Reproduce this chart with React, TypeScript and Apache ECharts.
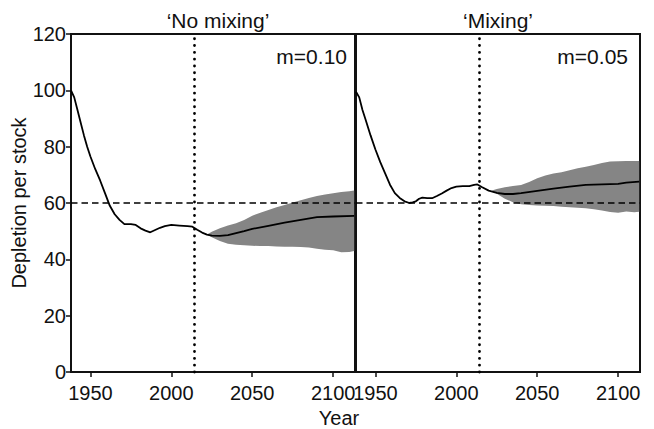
import React, { useEffect, useRef } from "react";
import * as echarts from "echarts";

// ---- Data ----
const noMixYears = [1938, 1940, 1942, 1944, 1946, 1948, 1950, 1953, 1956, 1959, 1962, 1965, 1968, 1971, 1975, 1978, 1981, 1984, 1987, 1990, 1993, 1996, 2000, 2005, 2010, 2013, 2016, 2019, 2022, 2025, 2030, 2035, 2040, 2045, 2050, 2060, 2070, 2080, 2090, 2100, 2113];
const noMixMean = [100, 97.5, 93, 88.5, 84, 80, 76.5, 72, 68, 63.5, 59, 56, 54, 52.5, 52.5, 52.2, 51, 50.2, 49.6, 50.4, 51.2, 51.8, 52.2, 52, 51.8, 51.6, 50.5, 49.5, 48.8, 48.4, 48.3, 48.6, 49.3, 50, 50.8, 51.9, 53, 54, 55, 55.2, 55.4];
const noMixBandYears = [2022, 2025, 2030, 2035, 2040, 2045, 2050, 2055, 2060, 2065, 2070, 2075, 2080, 2085, 2090, 2095, 2100, 2105, 2110, 2113];
const noMixLower = [48.8, 47.8, 46.5, 45.5, 45.2, 45, 44.8, 44.7, 44.7, 44.6, 44.5, 44.5, 44.4, 44.2, 43.8, 43.4, 43.2, 42.5, 42.6, 43];
const noMixUpper = [48.8, 49.8, 51, 52, 52.8, 54, 55.5, 56.5, 57.5, 58.5, 59.3, 60.2, 61, 61.8, 62.5, 63, 63.5, 63.9, 64.2, 64.4];

const mixYears = [1938, 1940, 1942, 1944, 1947, 1950, 1953, 1956, 1959, 1962, 1965, 1968, 1971, 1973, 1975, 1977, 1979, 1982, 1985, 1988, 1991, 1994, 1997, 2000, 2004, 2008, 2011, 2013, 2016, 2020, 2025, 2030, 2035, 2040, 2050, 2060, 2070, 2080, 2090, 2100, 2105, 2113];
const mixMean = [99.5, 97.5, 93, 89.5, 84, 79, 74.5, 70.5, 66.5, 63.5, 61.8, 60.6, 60, 60.2, 60.6, 61.5, 61.9, 61.7, 61.7, 62.5, 63.4, 64.4, 65.3, 65.8, 66, 66, 66.4, 66.6, 65.6, 64.4, 63.6, 63.2, 63.2, 63.5, 64.3, 65.1, 65.8, 66.4, 66.6, 66.8, 67.2, 67.6];
const mixBandYears = [2022, 2025, 2030, 2035, 2040, 2045, 2050, 2055, 2060, 2065, 2070, 2075, 2080, 2085, 2090, 2095, 2100, 2105, 2110, 2113];
const mixLower = [64.4, 63.3, 61.5, 60.3, 59.6, 59.3, 59.1, 59, 58.9, 58.7, 58.5, 58.3, 58.1, 57.8, 57.3, 56.8, 56.5, 57, 56.7, 56.9];
const mixUpper = [64.4, 65, 65.6, 66, 66.4, 67.5, 68.8, 69.8, 70.5, 70.9, 71.6, 72.3, 72.9, 73.5, 74.2, 74.7, 74.8, 74.9, 74.9, 74.9];

const xTickValues = [1950, 2000, 2050, 2100];
const panelTitles = ["\u2018No mixing\u2019", "\u2018Mixing\u2019"];
const mLabels = ["m=0.10", "m=0.05"];
const referenceDepletion = 60;
const presentYear = 2014;
const yAxisTitle = "Depletion per stock";
const xAxisTitle = "Year";

const FONT = "Liberation Sans, Arial, sans-serif";

export default function App() {
  const ref = useRef<HTMLDivElement>(null);
  useEffect(() => {
    if (!ref.current) return;
    const chart = echarts.init(ref.current, null, { renderer: "svg" });

    const panels = [
      { years: noMixYears, mean: noMixMean, bandYears: noMixBandYears, lower: noMixLower, upper: noMixUpper },
      { years: mixYears, mean: mixMean, bandYears: mixBandYears, lower: mixLower, upper: mixUpper },
    ];

    const grids = [
      { left: 71, right: 299, top: 34, bottom: 57 },
      { left: 356, right: 14, top: 34, bottom: 57 },
    ].map((g) => ({ ...g, show: true, borderColor: "#111", borderWidth: 2, backgroundColor: "transparent", containLabel: false }));

    const xAxes = [0, 1].map((i) => ({
      type: "value",
      gridIndex: i,
      min: 1938,
      max: 2113.5,
      splitLine: { show: false },
      axisLine: { show: true, lineStyle: { color: "#111", width: 2 } },
      axisTick: { show: true, customValues: xTickValues, length: 5, lineStyle: { color: "#111", width: 1.5 } },
      axisLabel: {
        show: true,
        customValues: xTickValues,
        formatter: (v: number) => String(v),
        fontSize: 20,
        color: "#111",
        fontFamily: FONT,
        margin: 11,
      },
    }));

    const yAxes = [0, 1].map((i) => ({
      type: "value",
      gridIndex: i,
      min: 0,
      max: 120,
      interval: 20,
      splitLine: { show: false },
      axisLine: { show: true, lineStyle: { color: "#111", width: 2 } },
      axisTick: { show: i === 0, length: 5, lineStyle: { color: "#111", width: 1.5 } },
      axisLabel: { show: i === 0, fontSize: 20, color: "#111", fontFamily: FONT, margin: 5 },
      name: i === 0 ? yAxisTitle : "",
      nameLocation: "middle",
      nameGap: 40,
      nameTextStyle: { fontSize: 20, color: "#111", fontFamily: FONT },
    }));

    const series: any[] = [];
    panels.forEach((p, i) => {
      const bandData = p.bandYears.map((y, k) => [y, p.lower[k], p.upper[k]]);
      series.push({
        type: "custom",
        coordinateSystem: "cartesian2d",
        xAxisIndex: i,
        yAxisIndex: i,
        data: bandData,
        encode: { x: 0, y: [1, 2] },
        silent: true,
        z: 1,
        renderItem: (params: any, api: any) => {
          if (params.dataIndex !== 0) return null;
          const top = bandData.map((d) => api.coord([d[0], d[2]]));
          const bottom = bandData
            .slice()
            .reverse()
            .map((d) => api.coord([d[0], d[1]]));
          return {
            type: "polygon",
            shape: { points: top.concat(bottom) },
            style: { fill: "#858585", stroke: "none" },
          };
        },
      });
      series.push({
        type: "line",
        xAxisIndex: i,
        yAxisIndex: i,
        data: p.years.map((y, k) => [y, p.mean[k]]),
        symbol: "none",
        lineStyle: { color: "#000", width: 1.8 },
        z: 3,
        markLine: {
          silent: true,
          symbol: ["none", "none"],
          label: { show: false },
          data: [
            { yAxis: referenceDepletion, lineStyle: { color: "#000", width: 1.5, type: [6.5, 4] } },
            { xAxis: presentYear, lineStyle: { color: "#000", width: 2.8, type: [0.1, 6.7], cap: "round" } },
          ],
        },
      });
    });

    const graphics: any[] = [
      { type: "text", x: 218, y: 20, style: { text: panelTitles[0], font: `21px ${FONT}`, fill: "#111", textAlign: "center", textVerticalAlign: "middle" } },
      { type: "text", x: 498, y: 20, style: { text: panelTitles[1], font: `21px ${FONT}`, fill: "#111", textAlign: "center", textVerticalAlign: "middle" } },
      { type: "text", x: 347, y: 56, style: { text: mLabels[0], font: `21px ${FONT}`, fill: "#111", textAlign: "right", textVerticalAlign: "middle" } },
      { type: "text", x: 628, y: 56, style: { text: mLabels[1], font: `21px ${FONT}`, fill: "#111", textAlign: "right", textVerticalAlign: "middle" } },
      { type: "text", x: 339, y: 418, style: { text: xAxisTitle, font: `20px ${FONT}`, fill: "#111", textAlign: "center", textVerticalAlign: "middle" } },
    ];

    chart.setOption({
      animation: false,
      backgroundColor: "#fff",
      grid: grids,
      xAxis: xAxes,
      yAxis: yAxes,
      series,
      graphic: graphics,
    });

    return () => chart.dispose();
  }, []);

  return <div ref={ref} style={{ position: "fixed", left: 0, top: 0, width: 654, height: 429 }} />;
}
